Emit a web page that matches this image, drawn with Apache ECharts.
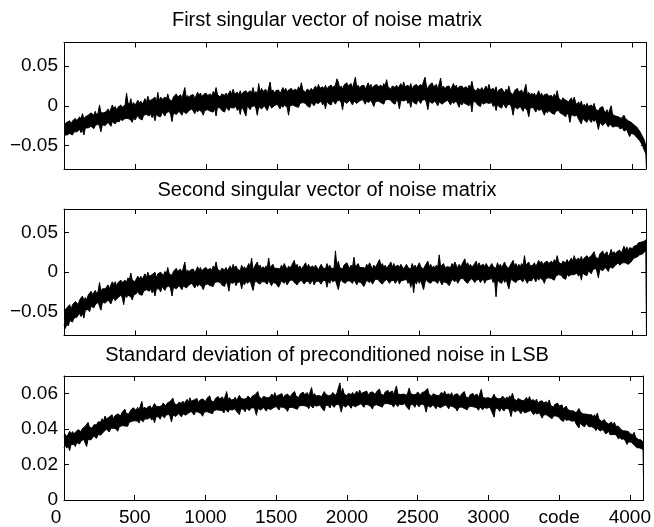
<!DOCTYPE html>
<html>
<head>
<meta charset="utf-8">
<script src="https://cdn.jsdelivr.net/npm/echarts@6/dist/echarts.min.js"></script>
<style>
html,body{margin:0;padding:0;background:#fff;}
#chart{width:654px;height:527px;}
</style>
</head>
<body>
<div id="chart"></div>
<script>
// The traces are dense (4096 codes). Each stored value is the local max / min
// of the trace inside a bin of codeStep codes.
const codeStep = 10;
const lastCode = 4095;

const titles = [
  'First singular vector of noise matrix',
  'Second singular vector of noise matrix',
  'Standard deviation of preconditioned noise in LSB'
];

const xTickValues = [0, 500, 1000, 1500, 2000, 2500, 3000, 3500, 4000];
const xTickLabels = ['0', '500', '1000', '1500', '2000', '2500', '3000', 'code', '4000'];

const vecTickValues = [-0.05, 0, 0.05];
const vecTickLabels = ['\u22120.05', '0', '0.05'];
const stdTickValues = [0, 0.02, 0.04, 0.06];
const stdTickLabels = ['0', '0.02', '0.04', '0.06'];

const firstVecHigh = [
-.024,-.024,-.021,-.023,-.019,-.023,-.019,-.021,-.016,-.019,
-.019,-.014,-.017,-.010,-.017,-.014,-.016,-.012,-.013,-.009,
-.011,-.012,-.007,-.012,-.009,.001,-.009,-.007,-.009,-.007,
-.007,-.004,-.008,-.004,.001,-.004,-.001,-.005,-.002,-.003,
.001,-.002,-.003,.001,.016,.004,.001,.009,.001,.004,
0,.004,.007,.003,.006,.002,.005,.009,.004,.012,
.006,.004,.008,.006,.011,.004,.017,.006,.011,.008,
.006,.011,.008,.015,.008,.010,.006,.011,.009,.015,
.011,.009,.014,.009,.011,.023,.010,.013,.010,.013,
.011,.014,.009,.013,.017,.013,.016,.011,.014,.012,
.016,.013,.011,.015,.012,.018,.015,.023,.014,.016,
.011,.015,.017,.013,.016,.013,.015,.019,.014,.021,
.015,.013,.017,.014,.019,.013,.017,.015,.019,.016,
.014,.019,.016,.023,.015,.018,.014,.028,.017,.022,
.018,.016,.021,.015,.017,.030,.017,.020,.016,.019,
.017,.020,.015,.019,.023,.019,.022,.017,.020,.018,
.022,.019,.017,.021,.018,.024,.021,.029,.020,.022,
.017,.021,.023,.019,.022,.019,.021,.025,.020,.027,
.022,.020,.024,.021,.026,.020,.024,.022,.026,.023,
.021,.026,.034,.030,.022,.025,.021,.026,.024,.029,
.025,.023,.028,.022,.024,.036,.023,.026,.022,.025,
.023,.026,.021,.025,.029,.024,.027,.022,.025,.023,
.027,.024,.022,.026,.023,.028,.025,.033,.024,.026,
.021,.025,.027,.023,.026,.022,.024,.028,.023,.030,
.024,.022,.026,.023,.028,.021,.025,.023,.027,.024,
.022,.027,.024,.031,.036,.025,.021,.026,.024,.029,
.024,.022,.027,.021,.023,.035,.022,.025,.021,.024,
.022,.025,.020,.024,.028,.023,.026,.021,.024,.022,
.025,.022,.020,.024,.021,.026,.023,.031,.022,.024,
.018,.022,.024,.020,.023,.019,.021,.025,.020,.027,
.020,.018,.022,.019,.024,.016,.020,.018,.022,.019,
.016,.021,.018,.025,.017,.018,.014,.019,.017,.022,
.017,.015,.020,.014,.016,.027,.014,.017,.013,.016,
.013,.016,.011,.015,.019,.013,.016,.011,.014,.012,
.015,.012,.010,.013,.010,.015,.011,.019,.010,.011,
.006,.010,.011,.007,.009,.005,.007,.010,.005,.011,
.004,.001,.005,.001,.006,-.002,.002,-.001,.003,-.001,
-.003,.001,-.002,.003,-.004,-.003,-.007,-.003,-.005,-.001,
-.006,-.009,-.005,-.010,-.009,0,-.011,-.009,-.013,-.011,
-.014,-.012,-.016,-.014,-.012,-.016,-.014,-.019,-.018,-.021,
-.022,-.024,-.024,-.027,-.028,-.032,-.033,-.039,-.042,-.048,
-.051
];

const firstVecLow = [
-.037,-.039,-.037,-.039,-.035,-.036,-.037,-.033,-.034,-.033,
-.033,-.030,-.034,-.030,-.037,-.028,-.030,-.028,-.030,-.026,
-.027,-.029,-.025,-.027,-.023,-.026,-.033,-.024,-.022,-.025,
-.024,-.021,-.022,-.026,-.020,-.018,-.023,-.020,-.019,-.020,
-.016,-.019,-.021,-.016,-.018,-.016,-.015,-.018,-.021,-.015,
-.018,-.015,-.012,-.016,-.015,-.018,-.012,-.014,-.011,-.012,
-.013,-.010,-.015,-.011,-.019,-.010,-.013,-.011,-.014,-.008,
-.010,-.013,-.009,-.011,-.007,-.011,-.020,-.009,-.008,-.011,
-.010,-.007,-.009,-.012,-.007,-.005,-.010,-.008,-.006,-.008,
-.004,-.007,-.010,-.005,-.008,-.005,-.004,-.008,-.012,-.006,
-.008,-.005,-.003,-.007,-.006,-.008,-.003,-.013,-.002,-.004,
-.003,-.006,-.004,-.008,-.002,-.004,-.006,-.002,-.004,-.003,
-.004,-.001,-.006,-.003,-.011,-.001,-.004,-.002,-.013,0,
-.002,-.005,-.001,-.003,0,-.003,-.012,-.001,0,-.004,
-.003,0,-.002,-.006,-.001,.002,-.003,-.001,0,-.002,
.002,-.001,-.004,.001,-.002,.001,.002,-.002,-.012,0,
-.002,.001,.003,-.001,0,-.002,.003,.001,.004,.002,
.003,0,.002,-.002,.004,.002,0,.004,.002,.003,
.003,.006,.001,.004,-.004,.006,.003,.005,.001,.007,
.005,.002,.006,.004,.007,.004,-.005,.006,.007,.003,
.004,.007,.005,.001,.006,.008,.003,.005,.006,.004,
.008,.005,.002,.007,.004,.006,.007,.003,-.001,.005,
.003,.006,.008,.004,.005,.002,.007,.005,.008,.006,
.007,.004,.006,.002,.008,.005,-.004,.007,.005,.006,
.005,.008,.003,.006,-.002,.007,.004,.006,.002,.008,
.006,.003,.007,.005,.008,.004,-.005,.006,.007,.003,
.003,.006,.004,0,.005,.007,.002,.004,.005,.003,
.007,.004,.001,.006,.003,.005,.006,.002,-.002,.004,
.001,.004,.006,.002,.003,0,.005,-.008,.006,.004,
.004,.001,.003,-.001,.005,.002,0,.004,.002,.003,
.001,.004,-.001,.002,-.006,.002,-.001,.001,-.003,.003,
0,-.003,.001,-.001,.002,-.003,-.012,-.001,0,-.004,
-.004,-.001,-.003,-.007,-.002,-.001,-.006,-.014,-.003,-.005,
-.002,-.005,-.008,-.003,-.006,-.005,-.004,-.008,-.012,-.006,
-.009,-.006,-.004,-.009,-.008,-.011,-.007,-.009,-.006,-.009,
-.008,-.011,-.010,-.014,-.009,-.012,-.021,-.011,-.013,-.013,
-.014,-.012,-.017,-.015,-.023,-.015,-.018,-.017,-.021,-.016,
-.017,-.021,-.017,-.020,-.017,-.022,-.030,-.021,-.020,-.025,
-.023,-.021,-.023,-.027,-.023,-.023,-.027,-.026,-.026,-.028,
-.026,-.029,-.031,-.028,-.032,-.030,-.030,-.035,-.039,-.035,
-.034,-.036,-.036,-.040,-.040,-.044,-.045,-.050,-.055,-.059,
-.061
];

const secondVecHigh = [
-.049,-.050,-.045,-.047,-.041,-.047,-.041,-.042,-.037,-.039,
-.041,-.035,-.037,-.030,-.036,-.032,-.035,-.029,-.030,-.024,
-.028,-.028,-.023,-.027,-.024,-.013,-.024,-.021,-.023,-.021,
-.020,-.016,-.021,-.016,-.012,-.016,-.012,-.017,-.013,-.015,
-.010,-.013,-.014,-.010,-.013,-.007,-.010,-.001,-.010,-.008,
-.012,-.008,-.005,-.009,-.005,-.009,-.007,-.002,-.007,0,
-.005,-.007,-.003,-.005,0,-.007,-.002,-.004,0,-.002,
-.004,.001,-.002,.006,-.002,0,-.004,.001,0,.005,
.001,-.001,.004,-.001,.001,.013,0,.003,0,.003,
.001,.004,-.001,.003,.007,.003,.006,.001,.004,.002,
.006,.003,.001,.005,.002,.008,.005,.013,.004,.006,
.001,.005,.007,.003,.006,.002,.004,.008,.003,.010,
.005,.008,.004,.006,.002,.009,.004,.007,.003,.005,
.011,.006,.018,.003,.007,.005,.013,.006,.009,.004,
.007,.004,.008,.005,.018,.006,.004,.010,.005,.007,
.005,.007,.004,.009,.006,.011,.007,.003,.008,.005,
.008,.006,.015,.007,.010,.005,.008,.004,.006,.009,
.012,.005,.010,.006,.004,.008,.005,.009,.007,.003,
.007,.010,.006,.008,.004,.011,.006,.009,.005,.007,
.005,.027,.007,.014,.006,.008,.004,.009,.007,.012,
.008,.005,.009,.006,.019,.007,.005,.011,.006,.008,
.006,.008,.005,.010,.007,.012,.008,.004,.009,.006,
.009,.007,.016,.008,.011,.006,.009,.005,.007,.010,
.013,.006,.011,.007,.005,.009,.006,.010,.008,.004,
.007,.010,.006,.008,.004,.011,.006,.009,.005,.007,
.012,.007,.009,.004,.008,.006,.014,.007,.010,.005,
.008,.005,.009,.006,.022,.007,.005,.011,.006,.008,
.007,.009,.006,.011,.008,.013,.009,.005,.010,.007,
.010,.008,.017,.009,.012,.007,.010,.006,.008,.011,
.014,.007,.012,.008,.006,.010,.007,.011,.009,.005,
.008,.011,.007,.009,.005,.012,.007,.010,.006,.008,
.013,.008,.010,.005,.009,.007,.015,.008,.011,.006,
.010,.007,.011,.008,.021,.009,.007,.013,.008,.010,
.009,.012,.007,.011,.015,.011,.014,.009,.012,.010,
.014,.011,.009,.014,.011,.016,.013,.021,.013,.015,
.010,.014,.016,.012,.016,.012,.014,.018,.014,.021,
.015,.013,.018,.015,.020,.014,.018,.016,.021,.018,
.016,.021,.019,.026,.019,.021,.017,.023,.021,.027,
.022,.020,.026,.020,.023,.029,.023,.026,.023,.026,
.025,.028,.024,.028,.033,.028,.032,.027,.031,.029,
.030,.033,.031,.034,.037,.035,.038,.036,.039,.040,
.041
];

const secondVecLow = [
-.066,-.071,-.065,-.068,-.061,-.063,-.063,-.058,-.059,-.057,
-.056,-.052,-.056,-.052,-.058,-.048,-.050,-.047,-.050,-.043,
-.044,-.045,-.041,-.042,-.038,-.040,-.048,-.038,-.036,-.039,
-.039,-.035,-.037,-.040,-.035,-.032,-.036,-.034,-.032,-.034,
-.029,-.032,-.041,-.029,-.032,-.029,-.028,-.031,-.035,-.029,
-.030,-.027,-.024,-.028,-.026,-.029,-.024,-.025,-.022,-.024,
-.024,-.021,-.026,-.022,-.030,-.021,-.023,-.021,-.025,-.018,
-.020,-.023,-.019,-.020,-.017,-.021,-.030,-.019,-.017,-.021,
-.020,-.017,-.019,-.022,-.017,-.015,-.020,-.018,-.016,-.018,
-.014,-.017,-.020,-.015,-.018,-.015,-.014,-.018,-.022,-.016,
-.018,-.015,-.013,-.017,-.016,-.018,-.013,-.015,-.012,-.014,
-.013,-.016,-.014,-.018,-.012,-.015,-.024,-.013,-.015,-.014,
-.011,-.017,-.013,-.015,-.012,-.021,-.013,-.016,-.011,-.014,
-.015,-.011,-.012,-.023,-.014,-.010,-.013,-.011,-.015,-.012,
-.014,-.012,-.013,-.015,-.010,-.012,-.017,-.013,-.011,-.014,
-.013,-.019,-.015,-.011,-.012,-.014,-.011,-.016,-.013,-.010,
-.012,-.010,-.013,-.011,-.016,-.013,-.014,-.010,-.012,-.015,
-.012,-.013,-.011,-.015,-.013,-.010,-.016,-.012,-.014,-.011,
-.009,-.015,-.011,-.013,-.010,-.019,-.011,-.014,-.009,-.012,
-.014,-.010,-.011,-.022,-.013,-.009,-.012,-.010,-.014,-.011,
-.013,-.011,-.012,-.014,-.009,-.011,-.016,-.012,-.010,-.013,
-.012,-.018,-.014,-.010,-.011,-.013,-.010,-.015,-.012,-.009,
-.011,-.009,-.012,-.010,-.015,-.012,-.013,-.009,-.011,-.014,
-.011,-.012,-.010,-.014,-.012,-.009,-.015,-.011,-.013,-.010,
-.012,-.009,-.014,-.011,-.019,-.010,-.026,-.011,-.015,-.009,
-.014,-.010,-.011,-.022,-.013,-.009,-.012,-.010,-.014,-.011,
-.013,-.011,-.012,-.014,-.009,-.011,-.016,-.012,-.010,-.013,
-.011,-.017,-.013,-.009,-.010,-.012,-.009,-.014,-.011,-.008,
-.010,-.008,-.011,-.009,-.014,-.011,-.012,-.008,-.010,-.013,
-.010,-.011,-.009,-.013,-.011,-.008,-.014,-.010,-.012,-.009,
-.011,-.008,-.013,-.010,-.031,-.009,-.012,-.010,-.014,-.008,
-.013,-.009,-.010,-.021,-.012,-.008,-.011,-.009,-.013,-.010,
-.011,-.009,-.010,-.012,-.007,-.009,-.014,-.010,-.008,-.011,
-.006,-.009,-.012,-.007,-.010,-.007,-.006,-.010,-.014,-.008,
-.010,-.007,-.005,-.008,-.007,-.010,-.005,-.007,-.003,-.005,
-.004,-.007,-.005,-.009,-.002,-.005,-.007,-.003,-.004,-.003,
-.004,-.001,-.005,-.002,-.010,0,-.003,-.001,-.004,.002,
.001,-.002,.003,.001,.005,.001,-.007,.004,.005,.002,
.003,.006,.005,.001,.007,.009,.005,.007,.009,.007,
.012,.009,.007,.012,.010,.012,.014,.010,.008,.013,
.015,.018,.016,.019,.017,.022,.021,.023,.022,.027,
.028
];

const noiseStdHigh = [
.0358,.0371,.0356,.0372,.0388,.0373,.0386,.0371,.0383,.0378,
.0397,.0390,.0386,.0403,.0395,.0416,.0407,.0438,.0410,.0420,
.0406,.0424,.0435,.0425,.0440,.0430,.0441,.0459,.0445,.0474,
.0457,.0453,.0469,.0460,.0481,.0458,.0475,.0470,.0486,.0479,
.0475,.0494,.0487,.0513,.0488,.0497,.0486,.0506,.0502,.0521,
.0510,.0505,.0524,.0505,.0513,.0557,.0512,.0525,.0512,.0524,
.0518,.0531,.0514,.0530,.0545,.0530,.0541,.0526,.0537,.0532,
.0547,.0538,.0532,.0547,.0537,.0556,.0546,.0575,.0545,.0553,
.0536,.0551,.0559,.0546,.0558,.0545,.0553,.0568,.0551,.0577,
.0557,.0551,.0565,.0555,.0573,.0549,.0563,.0557,.0571,.0562,
.0555,.0573,.0563,.0588,.0560,.0568,.0554,.0573,.0566,.0584,
.0570,.0564,.0582,.0562,.0569,.0612,.0566,.0578,.0564,.0575,
.0568,.0580,.0562,.0577,.0591,.0575,.0585,.0569,.0579,.0573,
.0587,.0578,.0571,.0586,.0575,.0594,.0583,.0612,.0581,.0589,
.0571,.0585,.0593,.0579,.0590,.0577,.0584,.0598,.0581,.0606,
.0585,.0578,.0593,.0582,.0601,.0576,.0590,.0584,.0598,.0588,
.0581,.0598,.0589,.0613,.0586,.0593,.0579,.0598,.0591,.0609,
.0595,.0588,.0606,.0586,.0593,.0635,.0589,.0601,.0587,.0597,
.0590,.0601,.0584,.0598,.0612,.0596,.0606,.0589,.0600,.0593,
.0607,.0597,.0590,.0605,.0594,.0661,.0601,.0630,.0599,.0606,
.0588,.0602,.0609,.0595,.0607,.0593,.0600,.0614,.0596,.0621,
.0601,.0594,.0608,.0597,.0615,.0590,.0604,.0597,.0611,.0601,
.0595,.0612,.0602,.0626,.0598,.0605,.0591,.0609,.0602,.0619,
.0605,.0598,.0616,.0595,.0602,.0644,.0598,.0609,.0595,.0605,
.0598,.0609,.0591,.0605,.0632,.0601,.0611,.0594,.0604,.0597,
.0610,.0600,.0592,.0606,.0595,.0612,.0601,.0629,.0597,.0604,
.0586,.0600,.0606,.0592,.0603,.0588,.0595,.0609,.0590,.0615,
.0594,.0586,.0600,.0588,.0606,.0580,.0594,.0586,.0600,.0589,
.0582,.0599,.0588,.0612,.0583,.0590,.0575,.0593,.0585,.0602,
.0588,.0581,.0598,.0577,.0583,.0625,.0579,.0589,.0575,.0585,
.0578,.0588,.0570,.0583,.0597,.0579,.0589,.0571,.0581,.0573,
.0587,.0576,.0569,.0582,.0570,.0588,.0576,.0604,.0572,.0578,
.0560,.0573,.0579,.0564,.0574,.0560,.0566,.0579,.0560,.0584,
.0562,.0553,.0566,.0553,.0570,.0543,.0556,.0547,.0560,.0548,
.0540,.0555,.0543,.0565,.0535,.0540,.0524,.0540,.0531,.0546,
.0530,.0521,.0537,.0514,.0519,.0530,.0511,.0520,.0504,.0512,
.0503,.0512,.0492,.0504,.0516,.0497,.0505,.0486,.0494,.0485,
.0493,.0481,.0472,.0481,.0468,.0481,.0469,.0491,.0460,.0463,
.0443,.0452,.0454,.0439,.0444,.0429,.0431,.0440,.0421,.0439,
.0417,.0408,.0416,.0404,.0415,.0391,.0399,.0390,.0398,.0386,
.0374,.0382,.0369,.0382,.0356,.0356,.0341,.0349,.0339,.0347,
.0325
];

const noiseStdLow = [
.0295,.0307,.0293,.0305,.0279,.0313,.0305,.0314,.0302,.0325,
.0323,.0316,.0333,.0329,.0342,.0331,.0302,.0343,.0350,.0339,
.0346,.0361,.0358,.0348,.0369,.0380,.0367,.0378,.0385,.0382,
.0400,.0393,.0384,.0404,.0396,.0405,.0412,.0400,.0388,.0412,
.0408,.0420,.0430,.0418,.0425,.0416,.0437,.0432,.0445,.0440,
.0447,.0438,.0446,.0434,.0456,.0448,.0442,.0458,.0452,.0457,
.0455,.0467,.0451,.0463,.0436,.0470,.0460,.0469,.0456,.0479,
.0473,.0464,.0479,.0473,.0484,.0471,.0441,.0480,.0485,.0472,
.0476,.0488,.0482,.0469,.0487,.0495,.0479,.0487,.0491,.0485,
.0500,.0491,.0480,.0499,.0488,.0496,.0500,.0487,.0473,.0495,
.0488,.0499,.0506,.0493,.0497,.0487,.0505,.0499,.0509,.0503,
.0507,.0497,.0504,.0491,.0512,.0503,.0496,.0511,.0504,.0508,
.0505,.0516,.0499,.0510,.0482,.0515,.0504,.0512,.0498,.0520,
.0513,.0504,.0518,.0512,.0522,.0509,.0478,.0517,.0521,.0508,
.0511,.0522,.0516,.0502,.0519,.0527,.0510,.0517,.0521,.0514,
.0528,.0518,.0508,.0526,.0516,.0523,.0527,.0514,.0500,.0521,
.0514,.0524,.0532,.0518,.0523,.0512,.0530,.0524,.0534,.0528,
.0532,.0521,.0528,.0515,.0536,.0526,.0519,.0534,.0527,.0530,
.0527,.0537,.0521,.0531,.0503,.0536,.0525,.0532,.0519,.0540,
.0533,.0523,.0537,.0531,.0541,.0527,.0496,.0535,.0539,.0525,
.0528,.0539,.0532,.0518,.0536,.0543,.0526,.0533,.0536,.0529,
.0544,.0534,.0523,.0541,.0530,.0537,.0541,.0527,.0513,.0534,
.0528,.0538,.0545,.0531,.0535,.0524,.0542,.0535,.0545,.0538,
.0542,.0531,.0538,.0524,.0545,.0535,.0528,.0542,.0535,.0538,
.0535,.0545,.0528,.0538,.0510,.0541,.0530,.0537,.0523,.0544,
.0536,.0526,.0539,.0532,.0542,.0527,.0496,.0534,.0537,.0523,
.0526,.0537,.0529,.0515,.0532,.0538,.0521,.0528,.0530,.0523,
.0537,.0526,.0515,.0532,.0521,.0527,.0531,.0516,.0502,.0522,
.0515,.0525,.0531,.0517,.0520,.0509,.0526,.0519,.0528,.0521,
.0525,.0514,.0520,.0506,.0526,.0516,.0509,.0522,.0515,.0518,
.0515,.0524,.0507,.0516,.0468,.0519,.0508,.0514,.0500,.0520,
.0513,.0502,.0516,.0508,.0517,.0503,.0471,.0509,.0512,.0497,
.0500,.0510,.0502,.0487,.0503,.0510,.0492,.0498,.0500,.0492,
.0505,.0493,.0481,.0497,.0485,.0490,.0493,.0477,.0462,.0481,
.0473,.0481,.0486,.0470,.0472,.0459,.0475,.0466,.0474,.0465,
.0467,.0454,.0459,.0443,.0462,.0450,.0441,.0453,.0444,.0445,
.0440,.0448,.0429,.0437,.0407,.0437,.0424,.0429,.0413,.0432,
.0426,.0414,.0424,.0414,.0420,.0405,.0392,.0405,.0406,.0390,
.0392,.0398,.0388,.0373,.0384,.0387,.0368,.0371,.0370,.0361,
.0369,.0357,.0344,.0356,.0343,.0346,.0345,.0330,.0314,.0329,
.0323,.0326,.0326,.0311,.0309,.0295,.0304,.0294,.0296,.0286,
.0280
];

const FONT = '"Liberation Sans", Arial, Helvetica, sans-serif';
const panels = [
  { high: firstVecHigh, low: firstVecLow, min: -0.08, max: 0.08, ticks: vecTickValues, labels: vecTickLabels, top: 42.5, height: 126.5 },
  { high: secondVecHigh, low: secondVecLow, min: -0.08, max: 0.08, ticks: vecTickValues, labels: vecTickLabels, top: 209, height: 126.5 },
  { high: noiseStdHigh, low: noiseStdLow, min: 0, max: 0.07, ticks: stdTickValues, labels: stdTickLabels, top: 376, height: 126 }
];
const titleTops = [10.7, 180.7, 345.7];

function codeAt(k) { return Math.min(k * codeStep, lastCode); }

function labelFor(values, labels) {
  return function (v) {
    for (let i = 0; i < values.length; i++) {
      if (Math.abs(values[i] - v) < 1e-9) return labels[i];
    }
    return '';
  };
}

// bottom axis: the first label ("0") sits a little left of its tick, as in the original
function xLabelFormatter(v) {
  const s = labelFor(xTickValues, xTickLabels)(v);
  return v === 0 ? '{first|' + s + '}' : s;
}

const axisLineStyle = { color: '#000', width: 1 };
const grid = [], xAxis = [], yAxis = [], series = [], title = [];

panels.forEach(function (p, i) {
  grid.push({ left: 64, right: 8, top: p.top, height: p.height, containLabel: false });
  title.push({
    text: titles[i], left: 'center', top: titleTops[i], padding: [0, 0, 0, 56],
    textStyle: { fontFamily: FONT, fontSize: 20, fontWeight: 'normal', color: '#000' }
  });
  const isBottom = i === panels.length - 1;
  ['bottom', 'top'].forEach(function (pos) {
    xAxis.push({
      type: 'value', gridIndex: i, min: 0, max: lastCode, position: pos, z: 10,
      axisLine: { show: true, onZero: false, lineStyle: axisLineStyle },
      axisTick: { show: true, inside: true, length: 5, customValues: xTickValues, lineStyle: axisLineStyle },
      axisLabel: {
        show: isBottom && pos === 'bottom', customValues: xTickValues,
        formatter: xLabelFormatter,
        color: '#000', fontFamily: FONT, fontSize: 19, margin: 8,
        rich: { first: { fontFamily: FONT, fontSize: 19, color: '#000', padding: [0, 16, 0, 0] } }
      },
      splitLine: { show: false }
    });
  });
  ['left', 'right'].forEach(function (pos) {
    yAxis.push({
      type: 'value', gridIndex: i, min: p.min, max: p.max, position: pos, z: 10,
      axisLine: { show: true, onZero: false, lineStyle: axisLineStyle },
      axisTick: { show: true, inside: true, length: 5, customValues: p.ticks, lineStyle: axisLineStyle },
      axisLabel: {
        show: pos === 'left', customValues: p.ticks,
        formatter: labelFor(p.ticks, p.labels),
        color: '#000', fontFamily: FONT, fontSize: 19, margin: 6
      },
      splitLine: { show: false }
    });
  });
  const common = {
    type: 'line', xAxisIndex: i * 2, yAxisIndex: i * 2,
    showSymbol: false, symbol: 'none', sampling: false,
    lineStyle: { color: '#000', width: 1 },
    silent: true, animation: false
  };
  // upper edge of the trace, filled black down to the axis floor
  series.push(Object.assign({}, common, {
    z: 2,
    data: p.high.map(function (v, k) { return [codeAt(k), v]; }),
    areaStyle: { color: '#000', opacity: 1, origin: 'start' }
  }));
  // lower edge of the trace; white below it leaves the black band between edges
  series.push(Object.assign({}, common, {
    z: 3,
    data: p.low.map(function (v, k) { return [codeAt(k), v]; }),
    areaStyle: { color: '#fff', opacity: 1, origin: 'start' }
  }));
});

const chart = echarts.init(document.getElementById('chart'), null, { renderer: 'canvas' });
chart.setOption({
  animation: false,
  backgroundColor: '#fff',
  title: title,
  grid: grid,
  xAxis: xAxis,
  yAxis: yAxis,
  series: series
});
</script>
</body>
</html>
